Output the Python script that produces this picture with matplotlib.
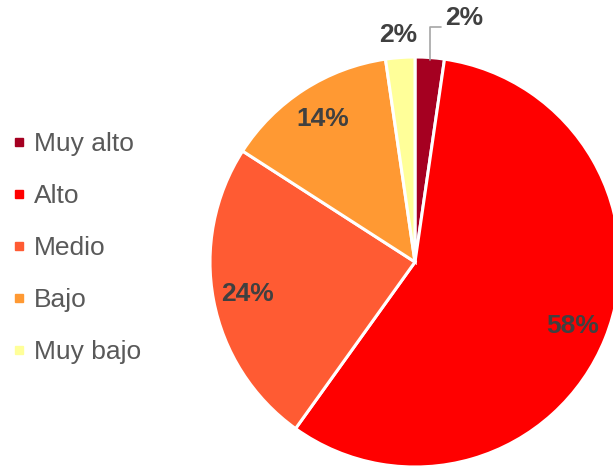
import numpy as np
import matplotlib
matplotlib.use("Agg")
import matplotlib.pyplot as plt

categories = ["Muy alto", "Alto", "Medio", "Bajo", "Muy bajo"]
values = [2.3, 57.6, 24.2, 13.6, 2.3]
labels = ["2%", "58%", "24%", "14%", "2%"]
colors = ["#A50021", "#FF0000", "#FF5B33", "#FF9933", "#FFFF99"]

plt.rcParams['font.family'] = ['Liberation Sans', 'DejaVu Sans']

W, H = 613, 469
fig = plt.figure(figsize=(W / 100, H / 100), dpi=100)
cx, cy, r = 415, 262, 205
ax = fig.add_axes([(cx - r) / W, (H - cy - r) / H, 2 * r / W, 2 * r / H])
wedges, _ = ax.pie(values, colors=colors, startangle=90, counterclock=False,
                   radius=1.0, wedgeprops=dict(edgecolor="white", linewidth=2.2))
ax.set_xlim(-1, 1)
ax.set_ylim(-1, 1)
ax.set_aspect("equal")
ax.axis("off")
for w in wedges:
    w.set_clip_on(False)

txt_color = "#404040"
fs = 19
for i, w in enumerate(wedges):
    mid = np.deg2rad((w.theta1 + w.theta2) / 2)
    if i == 0:
        edge = (np.cos(mid), np.sin(mid))
        ax.annotate(labels[i], xy=(edge[0] * 1.0, edge[1] * 0.99),
                    xytext=(0.145, 1.19), ha="left", va="center",
                    fontsize=fs, fontweight="bold", color=txt_color,
                    annotation_clip=False,
                    arrowprops=dict(arrowstyle="-", color="#A6A6A6", lw=1.2,
                                    shrinkA=1, shrinkB=0, relpos=(0, 0.12),
                                    connectionstyle="angle,angleA=180,angleB=90,rad=0"))
    elif i == 4:
        d = 1.11
        ax.text(d * np.cos(mid), d * np.sin(mid), labels[i], ha="center", va="center",
                fontsize=fs, fontweight="bold", color=txt_color)
    else:
        d = 0.83
        ax.text(d * np.cos(mid), d * np.sin(mid), labels[i], ha="center", va="center",
                fontsize=fs, fontweight="bold", color=txt_color)

handles = [plt.Line2D([0], [0], marker="s", linestyle="none", markersize=6,
                      markerfacecolor=c, markeredgecolor=c) for c in colors]
fig.legend(handles, categories, loc="upper left", bbox_to_anchor=(0.0, 0.745),
           frameon=False, fontsize=fs, labelcolor="#595959", handlelength=0.5,
           handletextpad=0.3, labelspacing=1.06, borderaxespad=0.08)

fig.savefig("out.png", dpi=100)
